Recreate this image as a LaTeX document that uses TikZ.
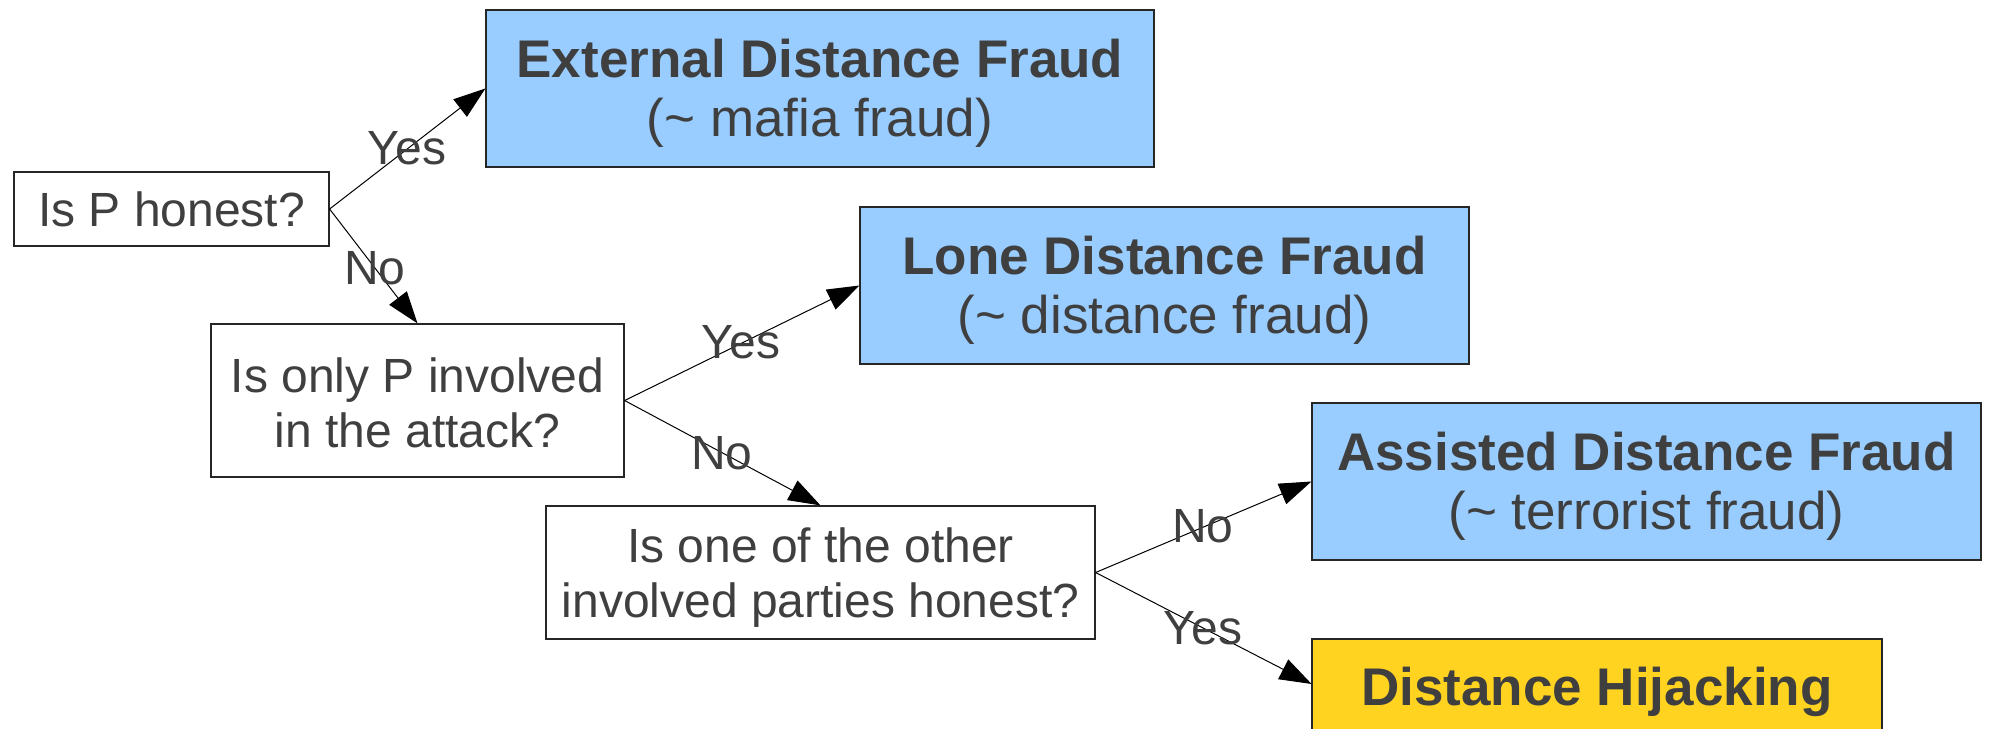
\documentclass[tikz,border=0pt]{standalone}
\usepackage{fontspec}
\setmainfont{Liberation Sans}
\usetikzlibrary{arrows.meta}
\definecolor{txt}{HTML}{3F3F3F}
\definecolor{bluefill}{HTML}{99CCFF}
\definecolor{yellowfill}{HTML}{FFD320}
\newcommand{\topstrut}[1]{\rule{0pt}{#1}}
\tikzset{
  box/.style={draw=black!85, line width=0.6pt, inner sep=0pt, text=txt, align=center},
  qbox/.style={box, fill=white, font=\fontsize{24}{27.5}\selectfont},
  rbox/.style={box, fill=bluefill, font=\fontsize{26.5}{29.7}\selectfont},
  htext/.style={inner sep=0pt, text=txt, font=\fontsize{26.5}{29.7}\selectfont\bfseries, text height=26pt, text depth=5pt},
  hrect/.style={draw=black!85, line width=0.6pt, fill=yellowfill},
  conn/.style={draw=black, line width=0.5pt, -{Triangle[length=16pt,width=11pt]}},
  lbl/.style={text=txt, font=\fontsize{24}{27.5}\selectfont, inner sep=0pt}
}
\begin{document}
\begin{tikzpicture}[x=0.5pt,y=-0.5pt]
\useasboundingbox (0,0) rectangle (1989,728);
\clip (0,0) rectangle (1989,728);
\node[qbox, minimum width=157.5pt, minimum height=37pt] (q1) at (171.5,209) {Is P honest?};
\node[qbox, minimum width=206.5pt, minimum height=76.5pt] (q2) at (417.5,400.5) {\topstrut{20pt}Is only P involved\\in the attack?};
\node[qbox, minimum width=274.5pt, minimum height=66.5pt] (q3) at (820.5,572.5) {\topstrut{22pt}Is one of the other\\involved parties honest?};
\node[rbox, minimum width=334pt, minimum height=78.5pt] (ext) at (820,88.5) {\topstrut{24pt}\textbf{External Distance Fraud}\\(\char`\~{} mafia fraud)};
\node[rbox, minimum width=304.5pt, minimum height=78.5pt] (lone) at (1164.5,285.5) {\topstrut{24pt}\textbf{Lone Distance Fraud}\\(\char`\~{} distance fraud)};
\node[rbox, minimum width=334.5pt, minimum height=78.5pt] (asst) at (1646.5,481.5) {\topstrut{24pt}\textbf{Assisted Distance Fraud}\\(\char`\~{} terrorist fraud)};
\draw[hrect] (1312,639) rectangle (1882,760);
\node[htext, minimum width=285pt, minimum height=45pt] (hij) at (1597,684) {Distance Hijacking};
\draw[conn] (q1.east) -- (ext.west);
\draw[conn] (q1.east) -- (q2.north);
\draw[conn] (q2.east) -- (lone.west);
\draw[conn] (q2.east) -- (q3.north);
\draw[conn] (q3.east) -- (asst.west);
\draw[conn] (q3.east) -- (hij.west);
\node[lbl] (l1) at (407,148) {Yes};
\node[lbl] (l2) at (375,268) {No};
\node[lbl] (l3) at (741,342) {Yes};
\node[lbl] (l4) at (722,453) {No};
\node[lbl] (l5) at (1203,526) {No};
\node[lbl] (l6) at (1203,628) {Yes};
\end{tikzpicture}
\end{document}
